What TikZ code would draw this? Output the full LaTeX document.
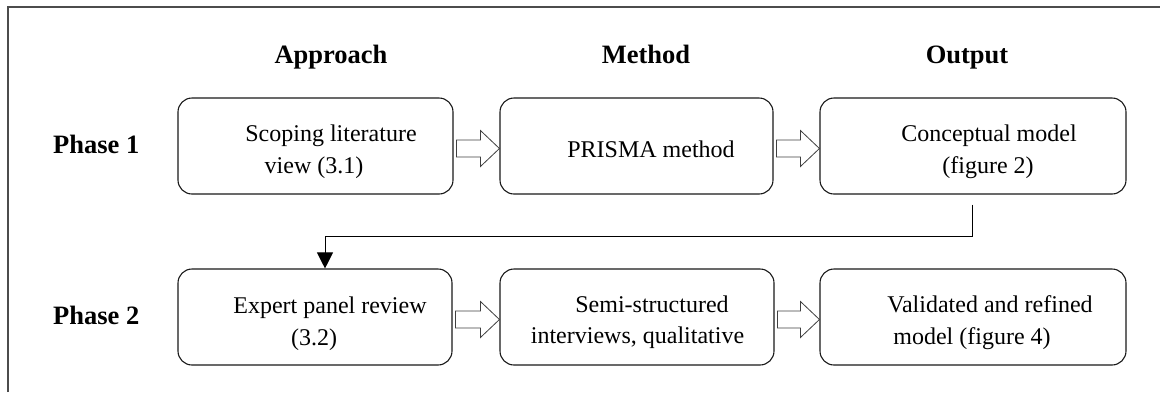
\documentclass[tikz,border=0pt]{standalone}
\usepackage{fontspec}
\setmainfont{Liberation Serif}
\usetikzlibrary{calc,arrows.meta}

\begin{document}
\begin{tikzpicture}[
  x=1pt, y=-1pt,
  frameline/.style={draw=black!70, line width=1.1pt},
  stagebox/.style={draw=black!90, line width=1.1pt, rounded corners=14pt,
    minimum height=96pt, inner sep=0pt},
  body/.style={font=\fontsize{24}{30}\selectfont, inner sep=0pt, anchor=base},
  head/.style={font=\bfseries\fontsize{26.5}{30}\selectfont, inner sep=0pt, anchor=base},
  hollow/.style={draw=black!75, line width=0.8pt, fill=white, line join=miter},
  conn/.style={draw=black, line width=1pt, -{Triangle[width=16pt,length=16pt]}},
]
\useasboundingbox (0,0) rectangle (1160,392);

% outer frame (top and left edges)
\draw[frameline] (8,392) -- (8,7) -- (1160,7);

% column headings
\node[head] (hA) at (331,63) {Approach};
\node[head] (hM) at (646,63) {Method};
\node[head] (hO) at (967,63) {Output};

% phase labels
\node[head, anchor=base west] (ph1) at (53,153) {Phase 1};
\node[head, anchor=base west] (ph2) at (53,324) {Phase 2};

% phase 1 boxes
\node[stagebox, minimum width=275pt] (b11) at (315.5,146) {};
\node[stagebox, minimum width=273pt] (b12) at (636.5,146) {};
\node[stagebox, minimum width=306pt] (b13) at (973,146) {};

% phase 2 boxes
\node[stagebox, minimum width=274pt] (b21) at (315,317) {};
\node[stagebox, minimum width=274pt] (b22) at (637,317) {};
\node[stagebox, minimum width=306pt] (b23) at (973,317) {};

% box texts
\node[body] (b11a) at ($(b11.center)+(15.5,-5)$) {Scoping literature};
\node[body] (b11b) at ($(b11.center)+(-1.5,27)$) {view (3.1)};
\node[body] (b12a) at ($(b12.center)+(14.5,11)$) {PRISMA method};
\node[body] (b13a) at ($(b13.center)+(16,-5)$) {Conceptual model};
\node[body] (b13b) at ($(b13.center)+(15,27)$) {(figure 2)};
\node[body] (b21a) at ($(b21.center)+(15,-4)$) {Expert panel review};
\node[body] (b21b) at ($(b21.center)+(-1,28)$) {(3.2)};
\node[body] (b22a) at ($(b22.center)+(15,-5)$) {Semi-structured};
\node[body] (b22b) at ($(b22.center)+(0.5,26)$) {interviews, qualitative};
\node[body] (b23a) at ($(b23.center)+(17,-5)$) {Validated and refined};
\node[body] (b23b) at ($(b23.center)+(-1,27)$) {model (figure 4)};

% hollow block arrow between two boxes of a row
\newcommand\hollowarrow[2]{%
  \draw[hollow] let \p1=($(#1.east)+(3,2.5)$), \p2=($(#2.west)+(0,2.5)$) in
    (\x1,\y1+8.5pt) -- (\x2-19pt,\y1+8.5pt) -- (\x2-19pt,\y1+18pt) --
    (\x2,\y1) --
    (\x2-19pt,\y1-18pt) -- (\x2-19pt,\y1-8.5pt) -- (\x1,\y1-8.5pt) -- cycle;}

\hollowarrow{b11}{b12}
\hollowarrow{b12}{b13}
\hollowarrow{b21}{b22}
\hollowarrow{b22}{b23}

% link from the phase 1 output to the phase 2 approach
\coordinate (lk0) at ($(b13.south)+(-1,10)$);
\coordinate (lk1) at ($(b21.north)+(10,0)$);
\draw[conn] (lk0) -- ++(0,32) -| (lk1);
\end{tikzpicture}
\end{document}
